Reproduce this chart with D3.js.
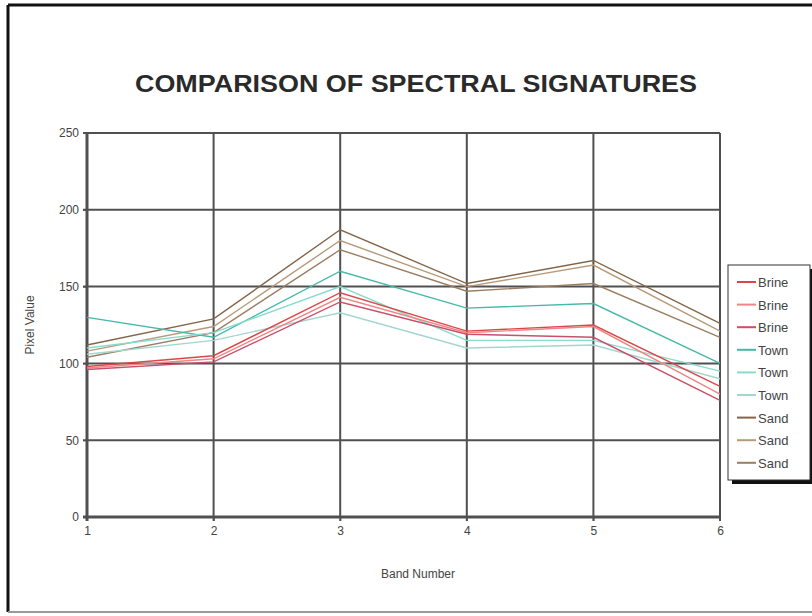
<!DOCTYPE html>
<html><head><meta charset="utf-8">
<script src="https://cdn.jsdelivr.net/npm/d3@7"></script>
<style>
body{margin:0;background:#fff;}
text{font-family:"Liberation Sans",Arial,sans-serif;}
</style></head>
<body><svg id="c" width="812" height="616"></svg>
<script>
const bands = [1, 2, 3, 4, 5, 6];
const yTicks = [0, 50, 100, 150, 200, 250];
const seriesNames = ["Brine", "Brine", "Brine", "Town", "Town", "Town", "Sand", "Sand", "Sand"];
const brine1 = [98, 105, 146, 121, 125, 85];
const brine2 = [97, 103, 143, 120, 124, 80];
const brine3 = [96, 101, 140, 119, 117, 76];
const town1 = [130, 117, 160, 136, 139, 100];
const town2 = [110, 120, 150, 115, 115, 95];
const town3 = [106, 115, 133, 110, 112, 90];
const sand1 = [112, 129, 187, 152, 167, 126];
const sand2 = [108, 124, 180, 150, 164, 121];
const sand3 = [104, 120, 174, 147, 152, 117];
const seriesValues = [brine1, brine2, brine3, town1, town2, town3, sand1, sand2, sand3];
const colors = ["#d94848", "#ef8585", "#c8506a", "#46b8a8", "#86dccf", "#a3d6cf", "#846549", "#b89a78", "#9a7e62"];

const svg = d3.select("#c");
svg.append("line").attr("x1",8).attr("y1",5).attr("x2",812).attr("y2",5).attr("stroke","#111").attr("stroke-width",3);
svg.append("line").attr("x1",8).attr("y1",5).attr("x2",8).attr("y2",612).attr("stroke","#111").attr("stroke-width",3);
svg.append("line").attr("x1",8).attr("y1",612).attr("x2",812).attr("y2",612).attr("stroke","#999").attr("stroke-width",2);

const x = d3.scaleLinear().domain([1, 6]).range([87, 720]);
const y = d3.scaleLinear().domain([0, 250]).range([517, 133]);

svg.append("text").attr("x", 416).attr("y", 92).attr("text-anchor","middle")
  .style("font-weight","bold").style("font-size","24px").attr("fill","#2a2a2a")
  .attr("textLength", 562).attr("lengthAdjust","spacingAndGlyphs")
  .text("COMPARISON OF SPECTRAL SIGNATURES");

const g = svg.append("g");
g.selectAll("line.h").data(yTicks).join("line")
  .attr("x1", x(1) - 4).attr("x2", x(6)).attr("y1", d => y(d)).attr("y2", d => y(d))
  .attr("stroke", "#505050").attr("stroke-width", d => d === 0 ? 3 : 2);
g.selectAll("line.v").data(bands).join("line")
  .attr("x1", d => x(d)).attr("x2", d => x(d)).attr("y1", y(250)).attr("y2", y(0) + 4)
  .attr("stroke", "#505050").attr("stroke-width", d => d === 1 ? 3 : 2);

const yAxis = svg.append("g").attr("transform", `translate(${x(1)},0)`)
  .call(d3.axisLeft(y).tickValues(yTicks).tickSize(4).tickPadding(4));
yAxis.select(".domain").remove();
yAxis.selectAll("line").attr("stroke","#505050");
yAxis.selectAll("text").style("font-size","12px").attr("fill","#444");

const xAxis = svg.append("g").attr("transform", `translate(0,${y(0)})`)
  .call(d3.axisBottom(x).tickValues(bands).tickFormat(d3.format("d")).tickSize(4).tickPadding(5));
xAxis.select(".domain").remove();
xAxis.selectAll("line").attr("stroke","#505050");
xAxis.selectAll("text").style("font-size","12px").attr("fill","#444");

svg.append("text").attr("x", 418).attr("y", 578).attr("text-anchor","middle")
  .style("font-size","12px").attr("fill","#444").text("Band Number");
svg.append("text").attr("transform","translate(34,325) rotate(-90)").attr("text-anchor","middle")
  .style("font-size","12px").attr("fill","#444").text("Pixel Value");

const line = d3.line().x((d, i) => x(bands[i])).y(d => y(d));
const order = [6,7,8,3,4,5,0,1,2];
svg.append("g").selectAll("path").data(order).join("path")
  .attr("d", i => line(seriesValues[i])).attr("fill","none")
  .attr("stroke", i => colors[i]).attr("stroke-width", 1.4);

const lg = svg.append("g");
lg.append("rect").attr("x", 732).attr("y", 269).attr("width", 82).attr("height", 215).attr("fill","#111");
lg.append("rect").attr("x", 728).attr("y", 265).attr("width", 82).attr("height", 215)
  .attr("fill","#fff").attr("stroke","#333").attr("stroke-width",1);
const rows = lg.selectAll("g.r").data(seriesNames).join("g")
  .attr("transform", (d, i) => `translate(0,${282 + i * 22.6})`);
rows.append("line").attr("x1",737).attr("x2",756).attr("y1",0).attr("y2",0)
  .attr("stroke",(d,i)=>colors[i]).attr("stroke-width",2);
rows.append("text").attr("x",758).attr("y",5).style("font-size","13px").attr("fill","#444").text(d=>d);
</script></body></html>
